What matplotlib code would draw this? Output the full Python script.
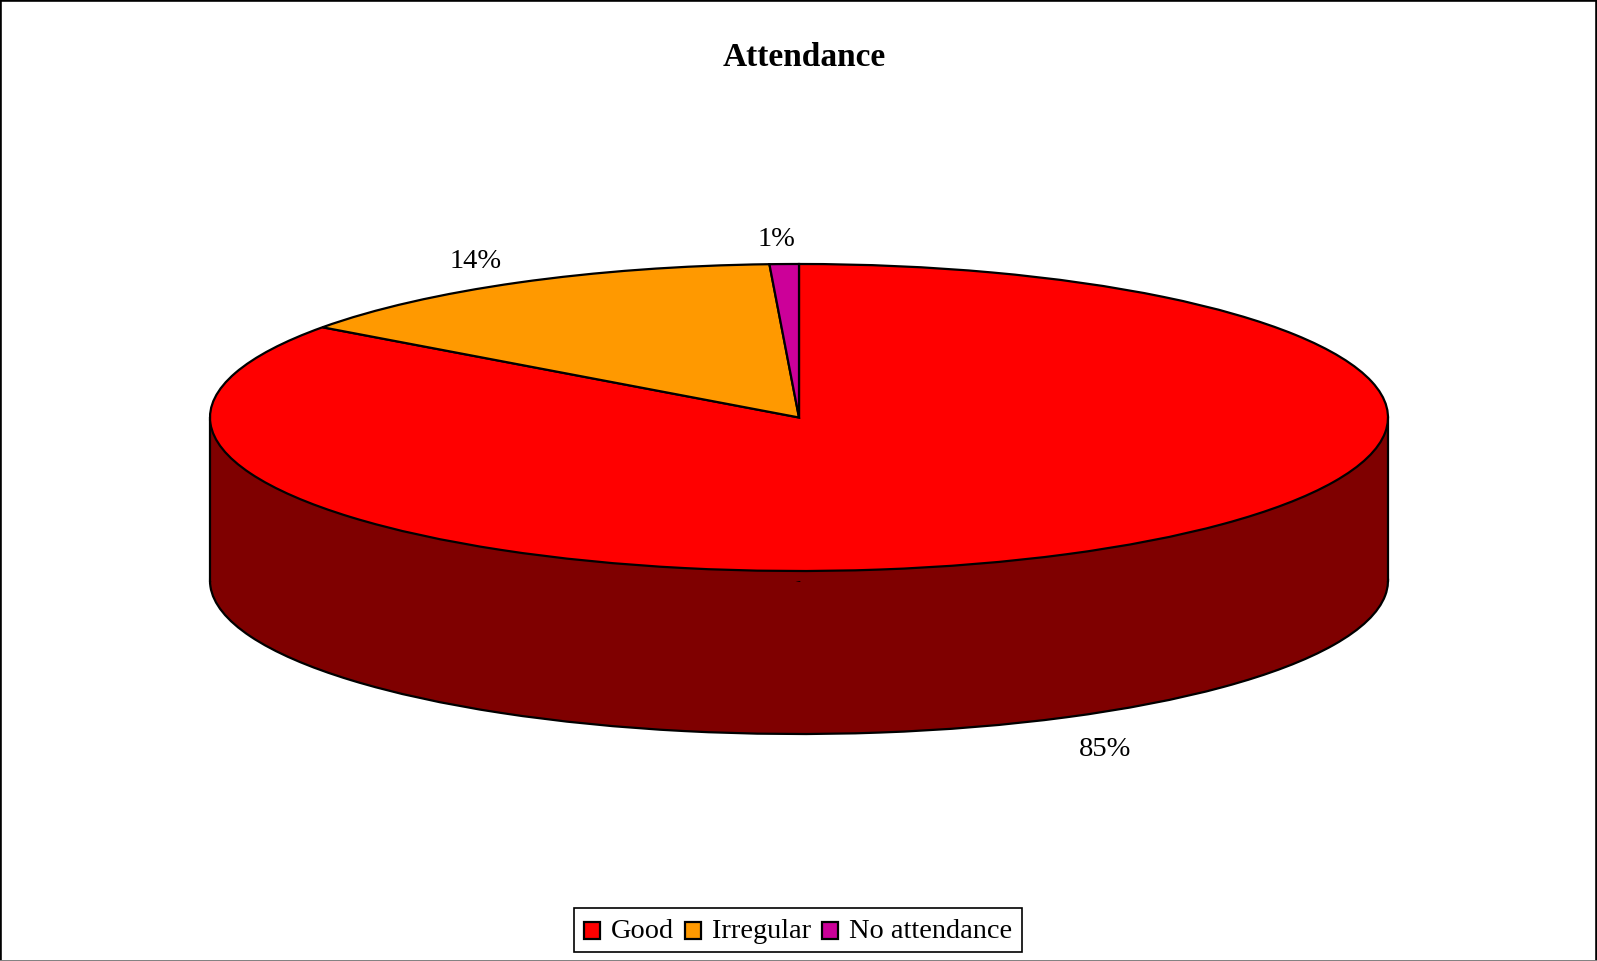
import numpy as np
import matplotlib
matplotlib.use("Agg")
import matplotlib.pyplot as plt
from matplotlib.lines import Line2D

plt.rcParams['font.family'] = ['Liberation Serif', 'DejaVu Serif']

categories = ['Good', 'Irregular', 'No attendance']
values = [85.0, 14.2, 0.8]
top_colors = ['#FF0000', '#FF9900', '#CC0099']
side_color = '#7F0000'

# ── layout in pixels ───────────────────────────
W, H = 1597, 961
cx, cy = 799, 417.5
rx, ry = 589, 153.5
depth = 163 / ry
label_dist = 1.15
# small pixel shifts for the % labels
label_nudge = [(-1, -12), (-1, 1), (-5, 2)]

fig = plt.figure(figsize=(W / 100, H / 100), dpi=100)
ax = fig.add_axes([0, 0, 1, 1])

# ── side of the cylinder ───────────────────────
edge = {'edgecolor': 'black', 'linewidth': 1.6}
ax.pie(values, colors=[side_color] * 3, startangle=90, counterclock=False,
       center=(0, -depth), wedgeprops={**edge, 'zorder': 1})
ax.fill_between([-1, 1], -depth, 0, facecolor=side_color, edgecolor='none', zorder=2)
ax.plot([-1, -1], [0, -depth], color='black', lw=1.6, zorder=3)
ax.plot([1, 1], [0, -depth], color='black', lw=1.6, zorder=3)

# ── top face ───────────────────────────────────
wedges, _ = ax.pie(values, colors=top_colors, startangle=90, counterclock=False,
                   wedgeprops={**edge, 'zorder': 4})

for i, w in enumerate(wedges):
    mid = np.radians((w.theta1 + w.theta2) / 2)
    x = label_dist * np.cos(mid) + label_nudge[i][0] / rx
    y = label_dist * np.sin(mid) + label_nudge[i][1] / ry
    if y < 0:
        y -= depth
    ax.text(x, y, f'{values[i]:.0f}%', fontsize=20.5, ha='center', va='center', zorder=5)

ax.set_aspect('auto')
ax.set_xlim(-cx / rx, (W - cx) / rx)
ax.set_ylim(-(H - cy) / ry, cy / ry)
ax.axis('off')

fig.text(0.5035, 1 - 57 / H, 'Attendance', fontsize=24, fontweight='bold',
         ha='center', va='center')

leg = ax.legend(wedges, categories, ncol=3, loc='center',
                bbox_to_anchor=(798 / W, 1 - 930 / H), fontsize=20.4,
                frameon=True, fancybox=False, framealpha=1, edgecolor='black',
                handlelength=0.58, handleheight=0.58, handletextpad=0.38,
                columnspacing=0.38, borderpad=0.34, borderaxespad=0)
leg.get_frame().set_linewidth(1.2)
for t in leg.get_texts():
    t.set_y(-2)
for h in leg.legend_handles:
    h.set_y(h.get_y() - 3)

# ── outer border, bottom edge is grey ──────────
for xs, ys, col in [([0, 0], [0, 1], 'black'), ([0, 1], [1, 1], 'black'),
                    ([1, 1], [0, 1], 'black'), ([0, 1], [0, 0], '#808080')]:
    fig.add_artist(Line2D(xs, ys, color=col, lw=2.6 if col == 'black' else 1.4,
                          transform=fig.transFigure))

fig.savefig('out.png', dpi=100)
